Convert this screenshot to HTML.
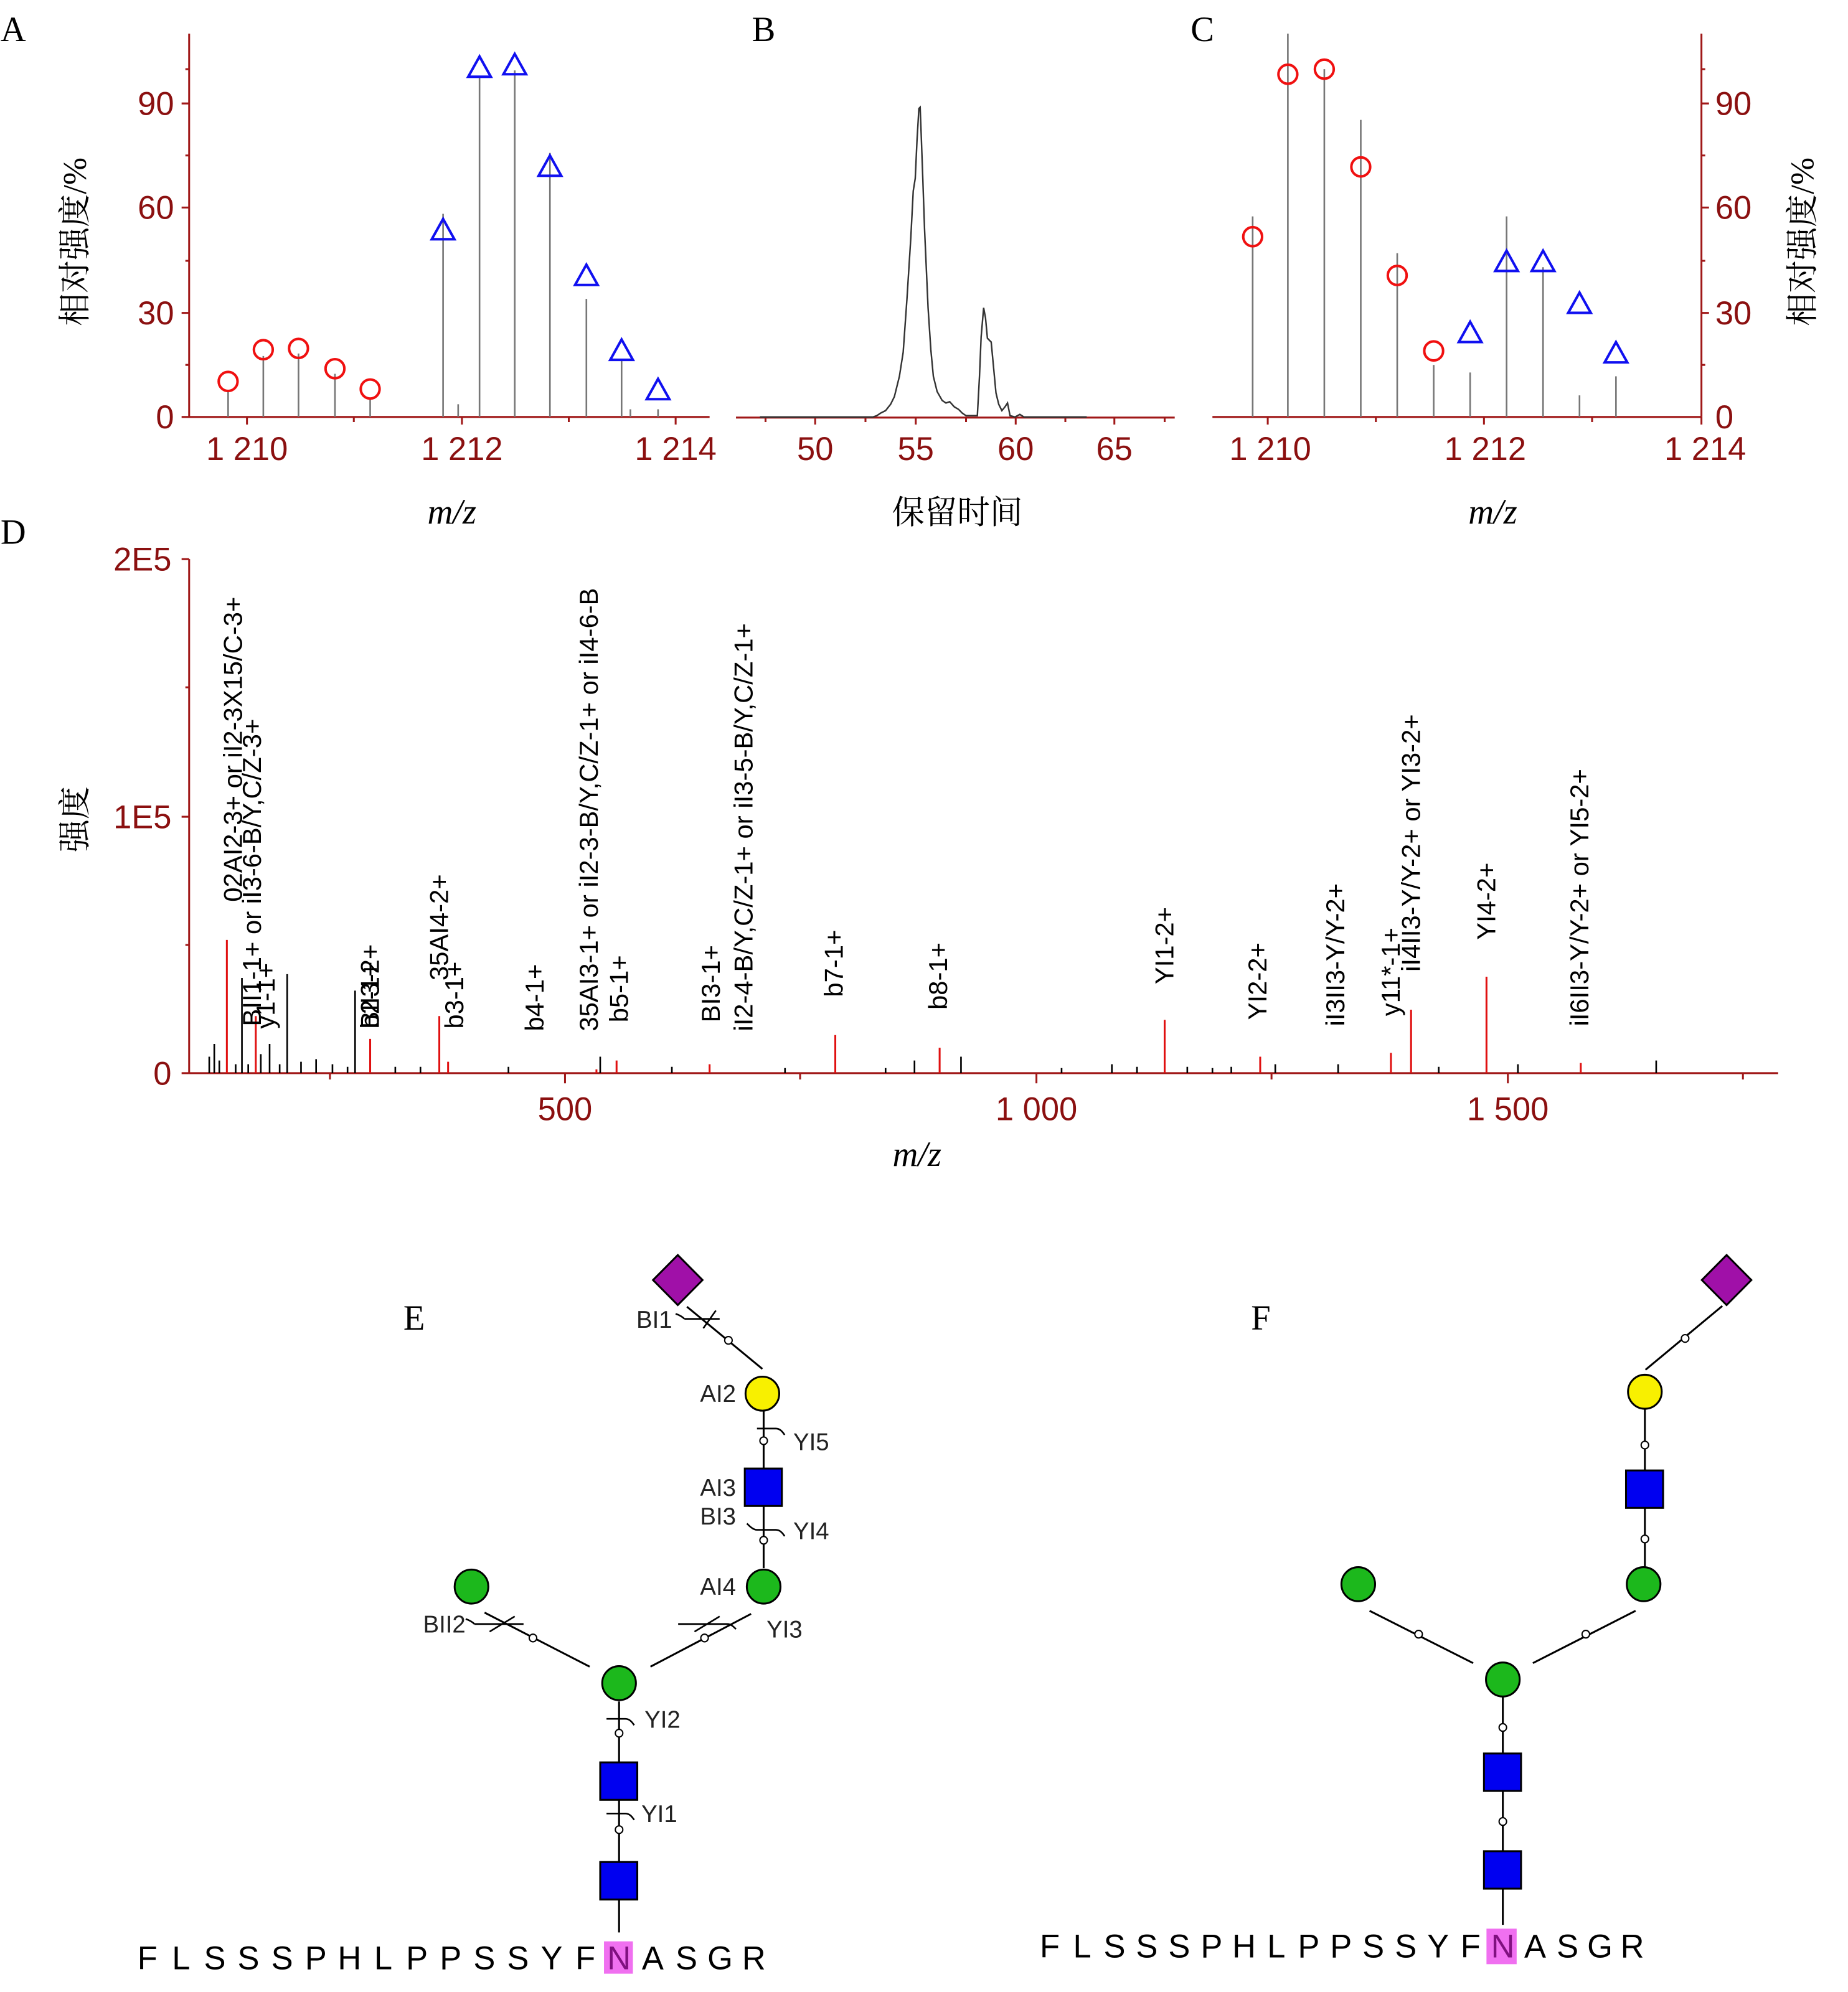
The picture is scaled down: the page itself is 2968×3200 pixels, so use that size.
<!DOCTYPE html>
<html><head><meta charset="utf-8"><style>
html,body{margin:0;padding:0;background:#fff}
svg{display:block}
.tk{font-family:"Liberation Sans",sans-serif;font-size:26px;fill:#8b1010}
.lt{font-family:"Liberation Serif",serif;font-size:28px;fill:#000}
.cj{font-family:"Liberation Serif","Noto Serif CJK SC",serif;font-size:26px;fill:#000}
.an{font-family:"Liberation Sans",sans-serif;font-size:20.5px;fill:#000}
.gl{font-family:"Liberation Sans",sans-serif;font-size:19px;fill:#222}
.pep{font-family:"Liberation Sans",sans-serif;font-size:26px;fill:#000}
.ax{stroke:#a01818;stroke-width:1.5;fill:none}
.st{stroke:#777;stroke-width:1.3}
.oc{fill:none;stroke:#f01010;stroke-width:2}
.tr{fill:none;stroke:#1010f0;stroke-width:2}
.bd{stroke:#000;stroke-width:1.5;fill:none}
</style></head><body>
<svg width="2968" height="3200" viewBox="0 0 2968 3200" xmlns="http://www.w3.org/2000/svg">
<rect width="2968" height="3200" fill="#fff"/>
<g transform="translate(9,1) scale(2.019,2.039)">
<!-- letters -->
<text class="lt" x="-4" y="32">A</text>
<text class="lt" x="603" y="32" text-anchor="middle">B</text>
<text class="lt" x="952" y="32" text-anchor="middle">C</text>
<text class="lt" x="-4" y="428">D</text>
<text class="lt" x="325" y="1047" text-anchor="middle">E</text>
<text class="lt" x="998.5" y="1047" text-anchor="middle">F</text>

<!-- Panel A -->
<path class="ax" d="M146,26 V328 M140,328 H560"/>
<path class="ax" d="M140,81 H146 M140,163 H146 M140,246 H146 M192,328 v6 M363,328 v6 M533,328 v6 M277,328 v4 M448,328 v4 M143,54 h3 M143,122 h3 M143,205 h3 M143,287 h3"/>
<text class="tk" x="134" y="90" text-anchor="end">90</text>
<text class="tk" x="134" y="172" text-anchor="end">60</text>
<text class="tk" x="134" y="255" text-anchor="end">30</text>
<text class="tk" x="134" y="337" text-anchor="end">0</text>
<text class="tk" x="192" y="362" text-anchor="middle">1 210</text>
<text class="tk" x="363" y="362" text-anchor="middle">1 212</text>
<text class="tk" x="533" y="362" text-anchor="middle">1 214</text>
<text class="cj" transform="translate(64,190) rotate(-90)" text-anchor="middle">相对强度/%</text>
<text class="lt" x="355" y="412" text-anchor="middle" font-style="italic">m/z</text>
<g class="st">
<path d="M177,328V307 M205,328V280 M233,328V278 M262,328V294 M290,328V313 M348,328V168 M360,328V318 M377,328V60 M405,328V55 M433,328V120 M462,328V235 M490,328V282 M497,328V322 M519,328V322"/>
</g>
<g class="oc"><circle cx="177" cy="300" r="7.5"/><circle cx="205" cy="275" r="7.5"/><circle cx="233" cy="274" r="7.5"/><circle cx="262" cy="290" r="7.5"/><circle cx="290" cy="306" r="7.5"/></g>
<g class="tr">
<path d="M348,172 l-9,16 h18z"/><path d="M377,44 l-9,16 h18z"/><path d="M405,42 l-9,16 h18z"/><path d="M433,122 l-9,16 h18z"/><path d="M462,208 l-9,16 h18z"/><path d="M490,267 l-9,16 h18z"/><path d="M519,298 l-9,16 h18z"/>
</g>

<!-- Panel B -->
<path class="ax" d="M581,328.5 H930 M644,328v6 M724,328v6 M803.5,328v6 M882,328v6 M604.5,328v4 M684,328v4 M764,328v4 M843,328v4 M922,328v4"/>
<text class="tk" x="644" y="362" text-anchor="middle">50</text>
<text class="tk" x="724" y="362" text-anchor="middle">55</text>
<text class="tk" x="803.5" y="362" text-anchor="middle">60</text>
<text class="tk" x="882" y="362" text-anchor="middle">65</text>
<text class="cj" x="757" y="412" text-anchor="middle">保留时间</text>
<path d="M600,328 H690 L693,327 L696,325 L700,323 L704,318 L707,312 L711,296 L714,277 L717,235 L720,188 L722,150 L723.6,140 L725,110 L726.5,85 L727.5,84 L728.5,110 L729.6,140 L731,180 L733.8,242 L736,275 L738,296 L741,308 L745,315 L748,317 L751,316 L754.6,320 L758,322 L761,325 L764,327 L773,327 L774.7,296 L776,265 L778,242 L779.5,250 L781,266 L784,269 L786,290 L787.8,309 L790,318 L792.5,323 L795,320 L797,317 L799,327 L803,328 L806.8,326 L810,328 H860" fill="none" stroke="#333" stroke-width="1.2"/>

<!-- Panel C -->
<path class="ax" d="M1349,26 V328 M960,328 H1349"/>
<path class="ax" d="M1349,81 h6 M1349,163 h6 M1349,246 h6 M1349,54 h3 M1349,122 h3 M1349,205 h3 M1349,287 h3 M1004,328v6 M1176,328v6 M1349,328v6 M1090,328v4 M1262,328v4"/>
<text class="tk" x="1360" y="90">90</text>
<text class="tk" x="1360" y="172">60</text>
<text class="tk" x="1360" y="255">30</text>
<text class="tk" x="1360" y="337">0</text>
<text class="tk" x="1006" y="362" text-anchor="middle">1 210</text>
<text class="tk" x="1177" y="362" text-anchor="middle">1 212</text>
<text class="tk" x="1352" y="362" text-anchor="middle">1 214</text>
<text class="cj" transform="translate(1438,190) rotate(-90)" text-anchor="middle">相对强度/%</text>
<text class="lt" x="1183" y="412" text-anchor="middle" font-style="italic">m/z</text>
<g class="st"><path d="M992,328V170 M1020,328V26 M1049,328V54 M1078,328V94 M1107,328V199 M1136,328V287 M1165,328V293 M1194,328V170 M1223,328V210 M1252,328V311 M1281,328V296"/></g>
<g class="oc"><circle cx="992" cy="186" r="7.5"/><circle cx="1020" cy="58" r="7.5"/><circle cx="1049" cy="54" r="7.5"/><circle cx="1078" cy="131" r="7.5"/><circle cx="1107" cy="216.5" r="7.5"/><circle cx="1136" cy="276" r="7.5"/></g>
<g class="tr"><path d="M1165,253 l-9,16 h18z"/><path d="M1194,197 l-9,16 h18z"/><path d="M1223,197 l-9,16 h18z"/><path d="M1252,230 l-9,16 h18z"/><path d="M1281,269 l-9,16 h18z"/></g>

<!-- Panel D -->
<path class="ax" d="M146,440 V845 M146,845 H1410"/>
<path class="ax" d="M140,440 h6 M140,643 h6 M140,845 h6 M143,541 h3 M143,744 h3 M445,845 v8 M820,845 v8 M1195,845 v8 M258,845v5 M632,845v5 M1007,845v5 M1382,845v5"/>
<text class="tk" x="132" y="449" text-anchor="end">2E5</text>
<text class="tk" x="132" y="652" text-anchor="end">1E5</text>
<text class="tk" x="132" y="854" text-anchor="end">0</text>
<text class="tk" x="445" y="882" text-anchor="middle">500</text>
<text class="tk" x="820" y="882" text-anchor="middle">1 000</text>
<text class="tk" x="1195" y="882" text-anchor="middle">1 500</text>
<text class="cj" transform="translate(64,645) rotate(-90)" text-anchor="middle">强度</text>
<text class="lt" x="725" y="918" text-anchor="middle" font-style="italic">m/z</text>
<g stroke="#000" stroke-width="1.3">
<path d="M162,845V832 M166,845V822 M170,845V835 M183,845V838 M188,845V770 M193,845V838 M203,845V830 M210,845V822 M218,845V838 M224,845V767 M235,845V836 M247,845V834 M260,845V838 M272,845V840 M278,845V780 M310,845V840 M330,845V840 M400,845V840 M473,845V832 M530,845V840 M620,845V841 M700,845V841 M723,845V835 M760,845V832 M840,845V841 M880,845V838 M900,845V840 M940,845V840 M960,845V841 M975,845V840 M1010,845V838 M1060,845V838 M1140,845V840 M1203,845V838 M1313,845V835"/>
</g>
<g stroke="#e01010" stroke-width="1.5">
<path d="M176,845V740 M199,845V800 M290,845V818 M345,845V800 M352,845V836 M486,845V835 M660,845V815 M743,845V825 M922,845V803 M998,845V832 M1102,845V829 M1118,845V795 M1178,845V769 M1253,845V837 M560,845V838 M470,845V842"/>
</g>
<g class="an">
<text transform="translate(188,710) rotate(-90)">02AI2-3+ or iI2-3X15/C-3+</text>
<text transform="translate(203,808) rotate(-90)">BII1-1+ or iI3-6-B/Y,C/Z-3+</text>
<text transform="translate(214,810) rotate(-90)">y1-1+</text>
<text transform="translate(297,810) rotate(-90)">b2-1+</text>
<text transform="translate(297,810) rotate(-90)">BII3-2+</text>
<text transform="translate(352,772) rotate(-90)">35AI4-2+</text>
<text transform="translate(364,810) rotate(-90)">b3-1+</text>
<text transform="translate(428,812) rotate(-90)">b4-1+</text>
<text transform="translate(471,812) rotate(-90)">35AI3-1+ or iI2-3-B/Y,C/Z-1+ or iI4-6-B</text>
<text transform="translate(495,805) rotate(-90)">b5-1+</text>
<text transform="translate(568,805) rotate(-90)">BI3-1+</text>
<text transform="translate(594,812) rotate(-90)">iI2-4-B/Y,C/Z-1+ or iI3-5-B/Y,C/Z-1+</text>
<text transform="translate(666,785) rotate(-90)">b7-1+</text>
<text transform="translate(749,795) rotate(-90)">b8-1+</text>
<text transform="translate(929,775) rotate(-90)">YI1-2+</text>
<text transform="translate(1003,803) rotate(-90)">YI2-2+</text>
<text transform="translate(1065,808) rotate(-90)">iI3II3-Y/Y-2+</text>
<text transform="translate(1109,800) rotate(-90)">y11*-1+</text>
<text transform="translate(1125,765) rotate(-90)">iI4II3-Y/Y-2+ or YI3-2+</text>
<text transform="translate(1185,740) rotate(-90)">YI4-2+</text>
<text transform="translate(1259,808) rotate(-90)">iI6II3-Y/Y-2+ or YI5-2+</text>
</g>

<!-- Panel E glycan -->
<g class="bd">
<path d="M488,1496V1522 M488,1417V1467 M488,1340V1388 M381,1270L464.6,1312.6 M513,1312.6L593,1271 M603,1235V1186 M603,1157V1111 M542,1029L602,1078"/>
</g>
<g fill="#fff" stroke="#000" stroke-width="1"><circle cx="488" cy="1365" r="3"/><circle cx="488" cy="1441" r="3"/><circle cx="419.5" cy="1290" r="3"/><circle cx="556" cy="1290" r="3"/><circle cx="603" cy="1213" r="3"/><circle cx="603" cy="1134.6" r="3"/><circle cx="575" cy="1055.5" r="3"/></g>
<g stroke="#000" stroke-width="1.3" fill="none">
<path d="M478,1353.7h15 M493,1353.7c3,0 5,2 7,5"/>
<path d="M478,1428.3h15 M493,1428.3c3,0 5,2 7,5"/>
<path d="M597.7,1125h15 M612.7,1125c3,0 5,2 7,5"/>
<path d="M597.7,1204.8h15 M612.7,1204.8c3,0 5,2 7,5 M597.7,1204.8c-3,0 -6,-3 -8,-5"/>
<path d="M373,1279h39 M405,1273l-20,12 M373,1279c-2,-2 -4,-3 -7,-4"/>
<path d="M535,1279h39 M574,1279c3,0 5,2 7,4 M548,1285l20,-12"/>
<path d="M540,1038.6h28 M540,1038.6c-2,-2 -4,-3 -7,-4 M555,1046l10,-14"/>
</g>
<rect x="473" y="1466.5" width="29.5" height="29.5" fill="#0000f0" stroke="#000" stroke-width="1.5"/>
<rect x="473" y="1388" width="29.5" height="29.5" fill="#0000f0" stroke="#000" stroke-width="1.5"/>
<rect x="588" y="1156.5" width="29.5" height="29.5" fill="#0000f0" stroke="#000" stroke-width="1.5"/>
<circle cx="488" cy="1325.6" r="13.4" fill="#1cb81c" stroke="#000" stroke-width="1.5"/>
<circle cx="370.6" cy="1249.5" r="13.4" fill="#1cb81c" stroke="#000" stroke-width="1.5"/>
<circle cx="603" cy="1249.5" r="13.4" fill="#1cb81c" stroke="#000" stroke-width="1.5"/>
<circle cx="602" cy="1097.5" r="13.4" fill="#f8f000" stroke="#000" stroke-width="1.5"/>
<path d="M534.7,988.3 L554.4,1008 L534.7,1027.7 L515,1008Z" fill="#a010a8" stroke="#000" stroke-width="1.5"/>
<g class="gl" text-anchor="middle">
<text x="516" y="1045.5">BI1</text><text x="566.7" y="1104">AI2</text><text x="640.8" y="1142">YI5</text>
<text x="566.7" y="1178">AI3</text><text x="566.7" y="1200.5">BI3</text><text x="640.8" y="1212">YI4</text>
<text x="566.7" y="1256">AI4</text><text x="349" y="1285.7">BII2</text><text x="619.6" y="1289.6">YI3</text>
<text x="522.5" y="1360.7">YI2</text><text x="520" y="1435">YI1</text>
</g>
<rect x="476" y="1529" width="23" height="25.5" fill="#f070f0"/>
<text class="pep" text-anchor="middle" y="1551" x="112.8 139.6 166.4 193.2 220 246.8 273.6 300.4 327.2 354 380.8 407.6 434.4 461.2">FLSSSPHLPPSSYF</text>
<text class="pep" text-anchor="middle" y="1551" x="488" style="fill:#801080">N</text>
<text class="pep" text-anchor="middle" y="1551" x="514.8 541.6 568.4 595.2">ASGR</text>

<!-- Panel F glycan -->
<g class="bd">
<path d="M1191,1488V1516 M1191,1411V1458 M1191,1336V1381 M1085,1268.6L1167.4,1309.8 M1214.9,1309.8L1296.6,1268.6 M1304,1234V1188 M1304,1158V1110 M1304.5,1078.7L1365.6,1028.4"/>
</g>
<g fill="#fff" stroke="#000" stroke-width="1"><circle cx="1191" cy="1360.5" r="3"/><circle cx="1191" cy="1434.6" r="3"/><circle cx="1124" cy="1287" r="3"/><circle cx="1257" cy="1287" r="3"/><circle cx="1304" cy="1212" r="3"/><circle cx="1304" cy="1138" r="3"/><circle cx="1336" cy="1054" r="3"/></g>
<rect x="1176" y="1458" width="29.5" height="29.5" fill="#0000f0" stroke="#000" stroke-width="1.5"/>
<rect x="1176" y="1381" width="29.5" height="29.5" fill="#0000f0" stroke="#000" stroke-width="1.5"/>
<rect x="1289" y="1158" width="29.5" height="29.5" fill="#0000f0" stroke="#000" stroke-width="1.5"/>
<circle cx="1191" cy="1322.7" r="13.4" fill="#1cb81c" stroke="#000" stroke-width="1.5"/>
<circle cx="1076" cy="1247.6" r="13.4" fill="#1cb81c" stroke="#000" stroke-width="1.5"/>
<circle cx="1303" cy="1247.6" r="13.4" fill="#1cb81c" stroke="#000" stroke-width="1.5"/>
<circle cx="1304" cy="1096" r="13.4" fill="#f8f000" stroke="#000" stroke-width="1.5"/>
<path d="M1369,988.3 L1388.7,1008 L1369,1027.7 L1349.3,1008Z" fill="#a010a8" stroke="#000" stroke-width="1.5"/>
<rect x="1178" y="1519" width="24" height="28" fill="#f070f0"/>
<text class="pep" text-anchor="middle" y="1541.6" x="830.6 856.4 882.1 907.8 933.6 959.3 985.1 1010.8 1036.6 1062.3 1088 1113.8 1139.5 1165.3">FLSSSPHLPPSSYF</text>
<text class="pep" text-anchor="middle" y="1541.6" x="1191" style="fill:#801080">N</text>
<text class="pep" text-anchor="middle" y="1541.6" x="1216.7 1242.5 1268.2 1294">ASGR</text>
</g>
</svg>
</body></html>
